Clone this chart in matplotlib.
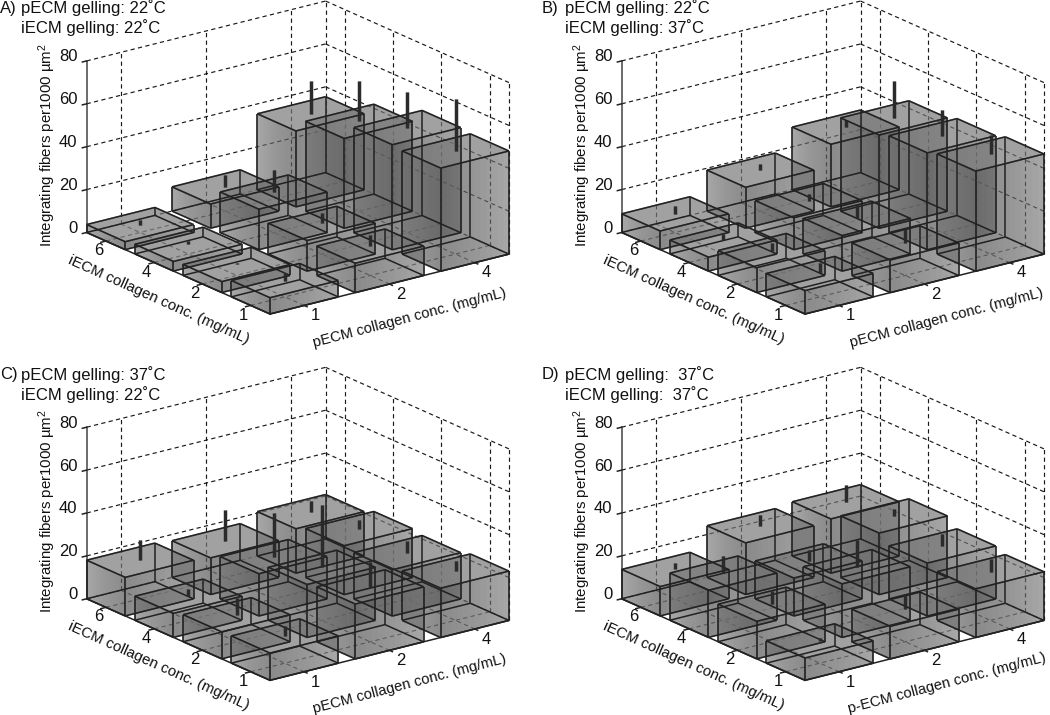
import numpy as np
import matplotlib
matplotlib.use("Agg")
import matplotlib.pyplot as plt
from mpl_toolkits.mplot3d import proj3d
from mpl_toolkits.mplot3d.art3d import Poly3DCollection, Line3DCollection

plt.rcParams["font.family"] = ["Liberation Sans", "DejaVu Sans"]
plt.rcParams["mathtext.default"] = "regular"

# one row per pECM conc (1, 2, 4), values in order of iECM conc (1, 2, 4, 6)
p_labels = ["1", "2", "4"]
i_labels = ["1", "2", "4", "6"]
z_ticks = [0, 20, 40, 60, 80]

heights_a = [[7.6, 5.1, 4.5, 3.7], [13.7, 14.3, 18.9, 11.3], [48.1, 49.0, 41.9, 35.4]]
errors_a = [[3.4, 0.8, 1.7, 2.0], [5.1, 4.7, 10.2, 5.7], [24.0, 16.8, 18.8, 15.5]]
heights_b = [[10.9, 11.6, 6.5, 8.7], [15.2, 16.6, 14.9, 19.1], [46.7, 45.2, 43.5, 29.2]]
errors_b = [[4.8, 3.4, 2.8, 3.7], [6.4, 6.8, 3.0, 2.9], [9.0, 12.0, 17.4, 3.4]]
heights_c = [[12.7, 12.6, 11.2, 18.0], [25.6, 24.7, 19.7, 17.1], [23.0, 21.6, 22.8, 20.7]]
errors_c = [[4.8, 7.6, 3.6, 9.3], [11.6, 29.0, 20.3, 14.4], [4.8, 5.6, 4.2, 5.0]]
heights_d = [[10.4, 17.5, 22.0, 13.7], [15.2, 25.0, 17.7, 24.1], [22.7, 24.7, 28.7, 25.3]]
errors_d = [[1.4, 6.0, 7.9, 3.0], [6.8, 12.4, 5.0, 5.0], [5.9, 5.7, 3.3, 8.0]]

W, H = 1050, 715
XLIM = (0.6, 3.4)
YLIM = (0.6, 4.4)
BAR = 0.8
EDGE = "#222222"
FONT = 12
GREY = (0.46, 0.46, 0.46)
SHADE = (0.2, 0.2, 0.2)
N_LAYERS = 12

fig = plt.figure(figsize=(W / 100, H / 100), dpi=100, facecolor="white")


def add_poly(ax, verts, alpha, color=GREY):
    ax.add_collection3d(Poly3DCollection(verts, facecolors=[color + (alpha,)], edgecolors="none",
                                         linewidths=0), autolim=False)


def add_lines(ax, segs, color=EDGE, lw=1.1, alpha=1.0):
    ax.add_collection3d(Line3DCollection(segs, colors=color, linewidths=lw, alpha=alpha), autolim=False)


def side_face(ax, a, b, h, base=0.6, step=0.018):
    # gradient from stacked see-through layers, darkest at end a
    add_poly(ax, [[(a[0], a[1], 0), (b[0], b[1], 0), (b[0], b[1], h), (a[0], a[1], h)]], base)
    for k in range(1, N_LAYERS + 1):
        t = k / N_LAYERS
        m = (a[0] + (b[0] - a[0]) * t, a[1] + (b[1] - a[1]) * t)
        add_poly(ax, [[(a[0], a[1], 0), (m[0], m[1], 0), (m[0], m[1], h), (a[0], a[1], h)]], step, SHADE)


def bar_edges(x0, x1, y0, y1, h):
    return [[(x0, y0, 0), (x1, y0, 0)], [(x0, y0, 0), (x0, y1, 0)],
            [(x0, y0, 0), (x0, y0, h)], [(x1, y0, 0), (x1, y0, h)], [(x0, y1, 0), (x0, y1, h)],
            [(x0, y0, h), (x1, y0, h)], [(x0, y0, h), (x0, y1, h)],
            [(x1, y1, h), (x1, y0, h)], [(x1, y1, h), (x0, y1, h)]]


def draw_bar(ax, xc, yc, h, err):
    x0, x1 = xc - BAR / 2, xc + BAR / 2
    y0, y1 = yc - BAR / 2, yc + BAR / 2
    # bottom and back first
    add_poly(ax, [[(x0, y0, 0), (x1, y0, 0), (x1, y1, 0), (x0, y1, 0)]], 0.05)
    add_poly(ax, [[(x1, y0, 0), (x1, y1, 0), (x1, y1, h), (x1, y0, h)]], 0.05)
    add_poly(ax, [[(x0, y1, 0), (x1, y1, 0), (x1, y1, h), (x0, y1, h)]], 0.05)
    add_lines(ax, [[(x1, y1, 0), (x1, y1, h)], [(x0, y1, 0), (x1, y1, 0)], [(x1, y0, 0), (x1, y1, 0)]])
    # then top and the two front faces
    add_poly(ax, [[(x0, y0, h), (x1, y0, h), (x1, y1, h), (x0, y1, h)]], 0.66)
    side_face(ax, (x0, y0), (x0, y1), h)
    side_face(ax, (x0, y0), (x1, y0), h)
    add_lines(ax, bar_edges(x0, x1, y0, y1, h))
    add_lines(ax, [[(xc, yc, h), (xc, yc, h + err)]], color="#2b2b2b", lw=2.4)


def place_axes(ax, ox, oy):
    # size and shift the 3D axes so the floor corners land where they are in the figure
    def corner(x, y):
        u, v, _ = proj3d.proj_transform(x, y, 0, ax.get_proj())
        return ax.transData.transform((u, v))

    size = 500.0
    ax.set_position([0, 0, size / W, size / H])
    ax.apply_aspect()
    right = corner(XLIM[1], YLIM[0])
    left = corner(XLIM[0], YLIM[1])
    size *= (509 - 86.7) / (right[0] - left[0])
    ax.set_position([0, 0, size / W, size / H])
    ax.apply_aspect()
    front = corner(XLIM[0], YLIM[0])
    px = ox + 270 - front[0]
    py = H - (oy + 314) - front[1]
    ax.set_position([px / W, py / H, size / W, size / H])


def panel(heights, errors, ox, oy, letter, title1, title2, p_title, p_x, letter_x, text_x):
    ax = fig.add_axes([0, 0, 0.5, 0.5], projection="3d", proj_type="ortho", computed_zorder=False)
    ax.set_axis_off()
    ax.patch.set_alpha(0)
    ax.view_init(elev=19.5, azim=-126.9)
    ax.set_box_aspect((298.8, 305.4, 182.0))
    ax.set_xlim(*XLIM, view_margin=0)
    ax.set_ylim(*YLIM, view_margin=0)
    ax.set_zlim(0, 80, view_margin=0)
    place_axes(ax, ox, oy)

    def tick_text(x, y, z, s, **kw):
        u, v, _ = proj3d.proj_transform(x, y, z, ax.get_proj())
        ax.text2D(u, v, s, transform=ax.transData, va="center", fontsize=FONT, color="#111111", **kw)

    xs = np.arange(1, len(p_labels) + 1)
    ys = np.arange(1, len(i_labels) + 1)
    dash = dict(color="#1a1a1a", lw=0.85, linestyle=(0, (3.6, 2.8)), zorder=1)
    grey = dict(color="#555555", lw=0.85, linestyle=(0, (3.6, 2.8)), zorder=1)

    # back walls and floor
    for z in z_ticks:
        ax.plot([XLIM[0], XLIM[1]], [YLIM[1], YLIM[1]], [z, z], **dash)
        ax.plot([XLIM[1], XLIM[1]], [YLIM[0], YLIM[1]], [z, z], **dash)
    for x in list(xs) + [XLIM[1]]:
        ax.plot([x, x], [YLIM[1], YLIM[1]], [0, 80], **dash)
    for y in [YLIM[0]] + list(ys):
        ax.plot([XLIM[1], XLIM[1]], [y, y], [0, 80], **dash)
    for x in xs:
        ax.plot([x, x], [YLIM[0], YLIM[1]], [0, 0], **grey)
    for y in ys:
        ax.plot([XLIM[0], XLIM[1]], [y, y], [0, 0], **grey)

    for a in range(len(xs) - 1, -1, -1):
        for b in range(len(ys) - 1, -1, -1):
            draw_bar(ax, xs[a], ys[b], heights[a][b], errors[a][b])

    # the faces wash out what is behind them, so go over the lines once more, faintly
    for a in range(len(xs) - 1, -1, -1):
        for b in range(len(ys) - 1, -1, -1):
            xc, yc, h = xs[a], ys[b], heights[a][b]
            add_lines(ax, bar_edges(xc - BAR / 2, xc + BAR / 2, yc - BAR / 2, yc + BAR / 2, h), alpha=0.45)
            add_lines(ax, [[(xc, yc, h), (xc, yc, h + errors[a][b])]], color="#2b2b2b", lw=2.4, alpha=0.45)

    # solid axes and ticks
    solid = dict(color=EDGE, lw=1.1, zorder=1)
    ax.plot([XLIM[0], XLIM[1]], [YLIM[0], YLIM[0]], [0, 0], **solid)
    ax.plot([XLIM[0], XLIM[0]], [YLIM[0], YLIM[1]], [0, 0], **solid)
    ax.plot([XLIM[0], XLIM[0]], [YLIM[1], YLIM[1]], [0, 80], color="#444444", lw=1.1, zorder=1)
    for z in z_ticks:
        ax.plot([XLIM[0] - 0.05, XLIM[0]], [YLIM[1], YLIM[1]], [z, z], **solid)
        tick_text(XLIM[0] - 0.11, YLIM[1], z + 3, str(z), ha="right")
    for x, lab in zip(xs, p_labels):
        ax.plot([x, x], [YLIM[0] - 0.06, YLIM[0]], [0, 0], **solid)
        tick_text(x - 0.09, YLIM[0] - 0.39, 0, lab, ha="center")
    for y, lab in zip(ys, i_labels):
        ax.plot([XLIM[0] - 0.06, XLIM[0]], [y, y], [0, 0], **solid)
        tick_text(XLIM[0] - 0.22, y - 0.23, 0, lab, ha="center")

    # labels in figure pixels
    def label(x, y, s, **kw):
        fig.text((ox + x) / W, 1 - (oy + y) / H, s, color="#111111", **kw)

    label(47.5, 145, "Integrating fibers per1000 µm$^2$", rotation=90, ha="center", va="center", fontsize=10.8)
    label(159, 300, "iECM collagen conc. (mg/mL)", rotation=-24.2, ha="center", va="center",
          rotation_mode="anchor", fontsize=10.8)
    label(p_x, 317.5, p_title, rotation=14.7, ha="center", va="center", rotation_mode="anchor", fontsize=10.6)
    fig.text(letter_x / W, 1 - (oy + 8) / H, letter, ha="left", va="center", fontsize=FONT, color="#111111")
    fig.text(text_x / W, 1 - (oy + 8) / H, title1, ha="left", va="center", fontsize=FONT, color="#111111")
    fig.text(text_x / W, 1 - (oy + 28) / H, title2, ha="left", va="center", fontsize=FONT, color="#111111")


panel(heights_a, errors_a, 0, 0, "A)", "pECM gelling: 22˚C", "iECM gelling: 22˚C",
      "pECM collagen conc. (mg/mL)", 410, 0, 20.7)
panel(heights_b, errors_b, 535, 0, "B)", "pECM gelling: 22˚C", "iECM gelling: 37˚C",
      "pECM collagen conc. (mg/mL)", 412, 542, 565)
panel(heights_c, errors_c, 0, 366.3, "C)", "pECM gelling: 37˚C", "iECM gelling: 22˚C",
      "pECM collagen conc. (mg/mL)", 410, 0, 20.7)
panel(heights_d, errors_d, 535, 366.3, "D)", "pECM gelling:  37˚C", "iECM gelling:  37˚C",
      "p-ECM collagen conc. (mg/mL)", 412, 542, 565)

fig.savefig("out.png", dpi=100)
